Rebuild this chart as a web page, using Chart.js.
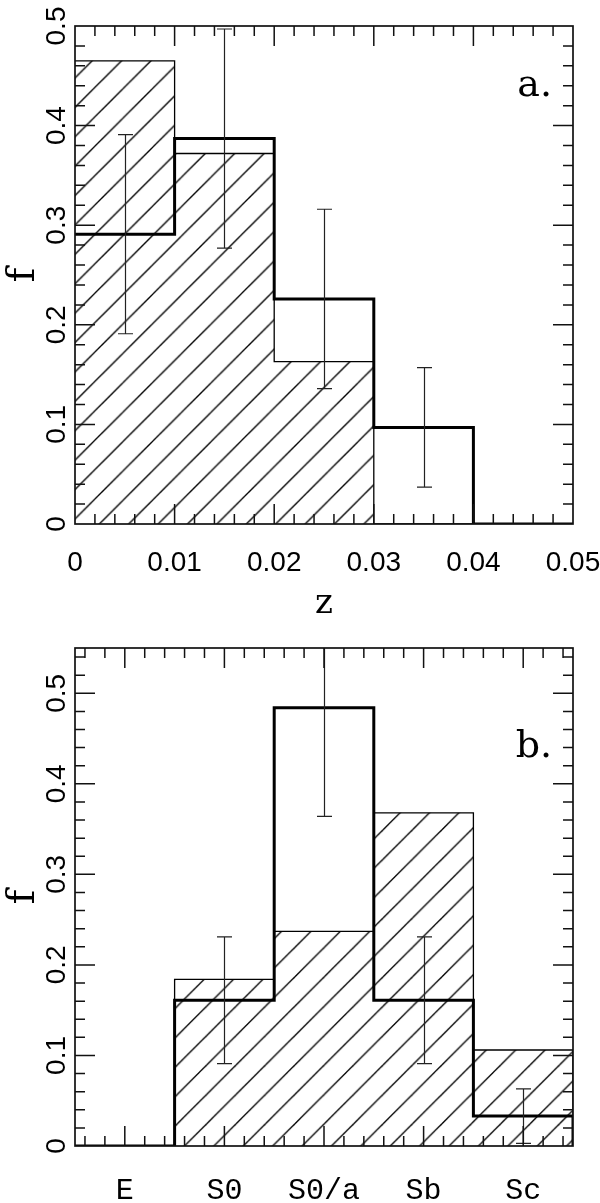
<!DOCTYPE html>
<html>
<head>
<meta charset="utf-8">
<script src="https://cdn.jsdelivr.net/npm/chart.js@4.4.1/dist/chart.umd.min.js"></script>
<style>
  html, body { margin: 0; padding: 0; background: #fff; }
  canvas { display: block; }
</style>
</head>
<body>
<canvas id="chartA" width="600" height="630"></canvas>
<canvas id="chartB" width="600" height="573"></canvas>
<script>
// panel a: redshift distribution
const zEdges = [0, 0.01, 0.02, 0.03, 0.04, 0.05];
const zTickLabels = [0, 0.01, 0.02, 0.03, 0.04, 0.05];
const hatchA = [0.465, 0.372, 0.163, 0, 0];
const thickA = [0.291, 0.387, 0.226, 0.097, 0];
const errLoA = [0.191, 0.277, 0.136, 0.037, null];
const errHiA = [0.391, 0.497, 0.316, 0.157, null];
const fTicksA = [0, 0.1, 0.2, 0.3, 0.4, 0.5];

// panel b: morphological type
const types = ["E", "S0", "S0/a", "Sb", "Sc"];
const hatchB = [0, 0.184, 0.237, 0.368, 0.106];
const thickB = [0, 0.161, 0.484, 0.161, 0.033];
const errLoB = [null, 0.091, 0.364, 0.091, 0.003];
const errHiB = [null, 0.231, 0.604, 0.231, 0.063];
const fTicksB = [0, 0.1, 0.2, 0.3, 0.4, 0.5];

const SANS = '"Liberation Sans", Arial, sans-serif';
const SERIF = '"DejaVu Serif", serif';
const MONO = '"Liberation Mono", "Courier New", monospace';

Chart.defaults.color = '#000';
Chart.defaults.font.family = SANS;

// histogram outline as step points
function steps(edges, vals) {
  const pts = [];
  vals.forEach((v, i) => {
    pts.push({ x: edges[i], y: v }, { x: edges[i + 1], y: v });
  });
  pts.push({ x: edges[edges.length - 1], y: 0 });
  return pts;
}

function mids(edges) {
  return edges.slice(0, -1).map((e, i) => (e + edges[i + 1]) / 2);
}

function hatch(canvasId, off) {
  const c = document.createElement('canvas');
  c.width = 30; c.height = 30;
  const g = c.getContext('2d');
  g.strokeStyle = '#000';
  g.lineWidth = 1.35;
  for (const k of [-30, 0, 30]) {
    g.beginPath();
    g.moveTo(-5, off + k + 5);
    g.lineTo(off + k + 5, -5);
    g.stroke();
  }
  const p = document.getElementById(canvasId).getContext('2d').createPattern(c, 'repeat');
  if (p.setTransform) p.setTransform(new DOMMatrix([0.98, 0, 0, 0.98, 0, 0]));
  return p;
}

function range(start, end, step) {
  const out = [];
  for (let k = 0; start + k * step <= end + 1e-9; k++) out.push(start + k * step);
  return out;
}

// frame, inward ticks on all sides, error bars, panel letter
const deco = {
  id: 'deco',
  afterDatasetsDraw(chart, args, o) {
    const { ctx, chartArea: a, scales: { x, y } } = chart;

    ctx.save();
    ctx.beginPath();
    ctx.rect(a.left, a.top, a.right - a.left, a.bottom - a.top);
    ctx.clip();
    ctx.strokeStyle = '#222';
    ctx.lineWidth = 1.2;
    o.errX.forEach((xv, i) => {
      if (o.lo[i] == null) return;
      const px = Math.round(x.getPixelForValue(xv)) + 0.5;
      const p1 = y.getPixelForValue(o.lo[i]);
      const p2 = y.getPixelForValue(o.hi[i]);
      ctx.beginPath();
      ctx.moveTo(px, p1); ctx.lineTo(px, p2);
      ctx.moveTo(px - 7.5, p1); ctx.lineTo(px + 7.5, p1);
      ctx.moveTo(px - 7.5, p2); ctx.lineTo(px + 7.5, p2);
      ctx.stroke();
    });
    ctx.restore();

    ctx.save();
    ctx.strokeStyle = '#111';
    ctx.lineWidth = 1.5;
    ctx.beginPath();
    o.xMinor.forEach(v => {
      if (v <= x.min || v >= x.max) return;
      const px = x.getPixelForValue(v);
      const len = o.xMajor(v) ? 20 : 10;
      ctx.moveTo(px, a.bottom); ctx.lineTo(px, a.bottom - len);
      ctx.moveTo(px, a.top); ctx.lineTo(px, a.top + len);
    });
    o.yMinor.forEach(v => {
      if (v <= y.min || v >= y.max) return;
      const py = y.getPixelForValue(v);
      const len = o.yMajor(v) ? 20 : 10;
      ctx.moveTo(a.left, py); ctx.lineTo(a.left + len, py);
      ctx.moveTo(a.right, py); ctx.lineTo(a.right - len, py);
    });
    ctx.stroke();
    ctx.lineWidth = 1.7;
    ctx.strokeRect(a.left, a.top, a.right - a.left, a.bottom - a.top);

    ctx.fillStyle = '#000';
    ctx.font = '38px ' + SERIF;
    ctx.textAlign = 'right';
    ctx.textBaseline = 'alphabetic';
    ctx.fillText(o.letter, x.getPixelForValue(o.letterX), y.getPixelForValue(o.letterY));
    ctx.restore();
  }
};

function near(v, step) {
  return Math.abs(v / step - Math.round(v / step)) < 1e-6;
}

function build(id, p) {
  return new Chart(document.getElementById(id), {
    type: 'line',
    data: {
      datasets: [
        {
          data: steps(p.edges, p.thick),
          borderColor: '#000',
          borderWidth: 3,
          pointRadius: 0,
          fill: false,
          order: 0,
          borderJoinStyle: 'miter'
        },
        {
          data: steps(p.edges, p.hatch),
          borderColor: '#000',
          borderWidth: 1.3,
          pointRadius: 0,
          backgroundColor: hatch(id, p.hatchOff),
          fill: 'origin',
          order: 1,
          borderJoinStyle: 'miter'
        }
      ]
    },
    options: {
      responsive: false,
      animation: false,
      devicePixelRatio: 1,
      events: [],
      layout: { padding: { top: p.top, right: 27, left: 0, bottom: 0 } },
      plugins: {
        legend: { display: false },
        tooltip: { enabled: false },
        deco: {
          errX: mids(p.edges),
          lo: p.lo,
          hi: p.hi,
          xMinor: p.xMinor,
          xMajor: p.xMajor,
          yMinor: range(0, p.yMax, 0.02),
          yMajor: v => near(v, 0.1),
          letter: p.letter,
          letterX: p.edges[p.edges.length - 1] * 0.958,
          letterY: 0.43
        }
      },
      scales: {
        x: {
          type: 'linear',
          min: p.edges[0],
          max: p.edges[p.edges.length - 1],
          grid: { display: false },
          border: { display: false },
          afterBuildTicks: s => { s.ticks = p.xTicks.map(v => ({ value: v })); },
          afterFit: s => { s.height = p.xHeight; s.paddingLeft = 0; s.paddingRight = 0; },
          ticks: {
            autoSkip: false,
            maxRotation: 0,
            padding: p.xPad,
            font: p.xFont,
            callback: p.xLabel
          },
          title: p.xTitle
        },
        y: {
          min: 0,
          max: p.yMax,
          grid: { display: false },
          border: { display: false },
          afterBuildTicks: s => { s.ticks = p.yTicks.map(v => ({ value: v })); },
          afterFit: s => { s.width = 75; s.paddingTop = 0; s.paddingBottom = 0; },
          ticks: {
            minRotation: 90,
            maxRotation: 90,
            crossAlign: 'center',
            padding: -10,
            font: { family: SANS, size: 28 },
            callback: v => (v === 0 ? '0' : v.toFixed(1))
          },
          title: {
            display: true,
            text: 'f',
            font: { family: SERIF, size: 40 },
            padding: { top: 0, bottom: 0 }
          }
        }
      }
    },
    plugins: [deco]
  });
}

build('chartA', {
  edges: zEdges,
  thick: thickA,
  hatch: hatchA,
  lo: errLoA,
  hi: errHiA,
  hatchOff: 6,
  top: 26,
  yMax: 0.5,
  yTicks: fTicksA,
  xTicks: zTickLabels,
  xMinor: range(0, 0.05, 0.002),
  xMajor: v => near(v, 0.01),
  xHeight: 106,
  xPad: 14,
  xFont: { family: SANS, size: 28 },
  xLabel: v => String(v),
  xTitle: {
    display: true,
    text: 'z',
    font: { family: SERIF, size: 34 },
    padding: { top: 0, bottom: 5 }
  },
  letter: 'a.'
});

const typeEdges = types.map((t, i) => i).concat([types.length]);
build('chartB', {
  edges: typeEdges,
  thick: thickB,
  hatch: hatchB,
  lo: errLoB,
  hi: errHiB,
  hatchOff: 24.7,
  top: 18,
  yMax: 0.55,
  yTicks: fTicksB,
  xTicks: mids(typeEdges),
  xMinor: range(0.1, 5, 0.2),
  xMajor: v => near(v - 0.5, 1),
  xHeight: 57,
  xPad: 19,
  xFont: { family: MONO, size: 30 },
  xLabel: (v, i) => types[i],
  xTitle: { display: false },
  letter: 'b.'
});
</script>
</body>
</html>
